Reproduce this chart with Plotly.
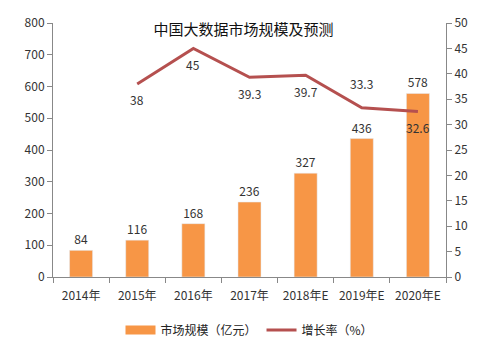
import plotly.graph_objects as go

categories = ["2014年", "2015年", "2016年", "2017年", "2018年E", "2019年E", "2020年E"]
market_size = [84, 116, 168, 236, 327, 436, 578]
growth_rate = [None, 38, 45, 39.3, 39.7, 33.3, 32.6]
growth_text = ["", "38", "45", "39.3", "39.7", "33.3", "32.6"]
label_below = [True, True, True, True, True, False, True]

FONT = "Noto Sans CJK SC"
BAR = "#F79646"
LINE = "#B5504F"
fig = go.Figure()
fig.add_trace(go.Bar(
    x=categories, y=market_size, name="市场规模（亿元）",
    marker=dict(color=BAR), width=0.41, showlegend=False,
    text=[str(v) for v in market_size], textposition="outside",
    textfont=dict(size=12, color="#333333"), cliponaxis=False,
))
fig.add_trace(go.Scatter(
    x=[None], y=[None], mode="lines", name="市场规模（亿元）",
    line=dict(color=BAR, width=9), showlegend=True,
))
fig.add_trace(go.Scatter(
    x=categories, y=growth_rate, name="增长率（%）", yaxis="y2",
    mode="lines", line=dict(color=LINE, width=3), cliponaxis=False,
))
for c, v, t, below in zip(categories, growth_rate, growth_text, label_below):
    if v is None:
        continue
    fig.add_annotation(x=c, y=v, yref="y2", xref="x", text=t, showarrow=False,
                       yshift=-16 if below else 24,
                       font=dict(size=12, color="#333333"))

fig.update_layout(
    width=492, height=353,
    margin=dict(l=53, r=46, t=23, b=76, autoexpand=False),
    paper_bgcolor="white", plot_bgcolor="white",
    font=dict(family=FONT, size=12, color="#333333"),
    title=dict(text="中国大数据市场规模及预测", x=0.495, xanchor="center",
               y=0.915, yanchor="middle", font=dict(size=15, color="#111111")),
    showlegend=True,
    legend=dict(orientation="h", x=0.5, xanchor="center", yref="container",
                y=0.065, yanchor="middle",
                font=dict(size=12, color="#222222"), itemwidth=30),
    xaxis=dict(showline=True, linecolor="#888888", linewidth=1, ticks="outside",
               tickson="boundaries", ticklen=5, tickcolor="#888888",
               ticklabelstandoff=8, automargin=False,
               tickfont=dict(size=12, color="#333333")),
    yaxis=dict(range=[0, 800], dtick=100, showgrid=False, showline=True,
               linecolor="#888888", ticks="outside", ticklen=5, tickcolor="#888888",
               tickfont=dict(size=12, color="#333333"), zeroline=False,
               automargin=False),
    yaxis2=dict(range=[0, 50], dtick=5, overlaying="y", side="right", showgrid=False,
                showline=True, linecolor="#888888", ticks="outside", ticklen=5,
                tickcolor="#888888", tickfont=dict(size=12, color="#333333"),
                zeroline=False, automargin=False),
)
fig.write_html("out.html")
